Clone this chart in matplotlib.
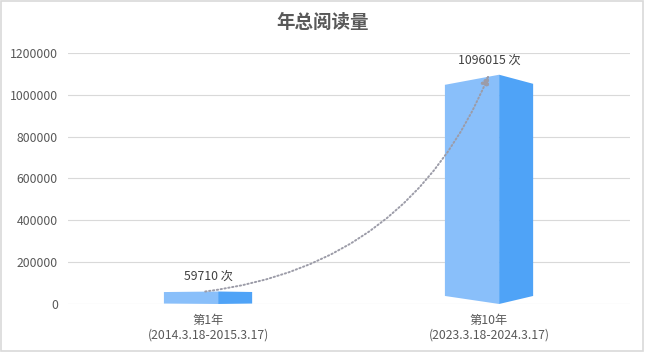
import matplotlib.pyplot as plt
from matplotlib.patches import Polygon, Rectangle

plt.rcParams['font.family'] = ['Noto Sans CJK SC', 'DejaVu Sans']

# data
categories = ['第1年\n(2014.3.18-2015.3.17)', '第10年\n(2023.3.18-2024.3.17)']
reads = [59710, 1096015]
value_labels = ['59710 次', '1096015 次']
yticks = [0, 200000, 400000, 600000, 800000, 1000000, 1200000]

light = '#89BFFA'
dark = '#4FA3F7'

fig = plt.figure(figsize=(6.45, 3.52), dpi=100)
ax = fig.add_axes([0.1047, 0.1364, 0.8713, 0.7131])

ax.set_xlim(-0.5, 1.5)
ax.set_ylim(0, 1200000)

# pseudo 3d bars: light left face, darker right face, peaked top
left_w, split, right_w = 0.157, 0.036, 0.157
for i, v in enumerate(reads):
    top_off = v * 0.044
    bot_off = v * 0.035
    xl, xs, xr = i - left_w, i + split, i + right_w
    ax.add_patch(Polygon([(xl, bot_off), (xs, 0), (xs, v), (xl, v - top_off)],
                         closed=True, facecolor=light, edgecolor='none', zorder=3))
    ax.add_patch(Polygon([(xs, 0), (xr, bot_off), (xr, v - top_off * 0.9), (xs, v)],
                         closed=True, facecolor=dark, edgecolor='none', zorder=3))
    ax.annotate(value_labels[i], xy=(i, v), xytext=(0, 6), textcoords='offset points',
                ha='center', va='bottom', fontsize=8.8, color='#404040', zorder=5)

# growth arrow
ax.annotate('', xy=(1.0, reads[1]), xytext=(-0.01, reads[0]),
            arrowprops=dict(arrowstyle='-|>,head_length=0.6,head_width=0.25',
                            connectionstyle='arc3,rad=0.29',
                            color='#9C9CA8', lw=1.4, linestyle=(0, (0.7, 1.3)),
                            shrinkA=0, shrinkB=0, mutation_scale=10),
            zorder=4)

ax.set_yticks(yticks)
ax.set_yticklabels([str(t) for t in yticks])
ax.set_xticks(range(len(categories)))
ax.set_xticklabels(categories, linespacing=1.2)
ax.tick_params(axis='y', length=0, pad=7, labelsize=8.8, labelcolor='#595959')
ax.tick_params(axis='x', length=0, pad=7, labelsize=8.8, labelcolor='#595959')
ax.grid(axis='y', color='#D9D9D9', linewidth=0.8, zorder=0)
ax.set_axisbelow(True)
for s in ax.spines.values():
    s.set_visible(False)

fig.text(0.5, 0.937, '年总阅读量', ha='center', va='center', fontsize=13.3,
         fontweight='bold', color='#595959')

# outer frame
fig.patches.append(Rectangle((0.001, 0.002), 0.996, 0.995, transform=fig.transFigure,
                             fill=False, edgecolor='#D9D9D9', linewidth=1.2))

fig.savefig('out.png', dpi=100)
